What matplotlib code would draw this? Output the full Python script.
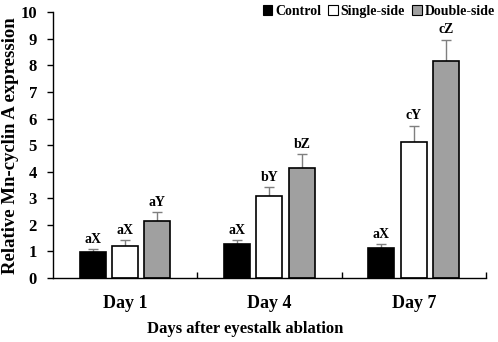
import matplotlib.pyplot as plt
import numpy as np
from matplotlib.patches import Patch

###  values
days = ['Day 1', 'Day 4', 'Day 7']
groups = ['Control', 'Single-side', 'Double-side']
control = [0.98, 1.27, 1.12]
single = [1.20, 3.09, 5.12]
double = [2.14, 4.16, 8.18]
controlErr = [0.10, 0.17, 0.16]
singleErr = [0.23, 0.32, 0.62]
doubleErr = [0.35, 0.50, 0.79]
letters = [['aX', 'aX', 'aX'],
           ['aX', 'bY', 'cY'],
           ['aY', 'bZ', 'cZ']]

plt.rcParams['font.family'] = ['Liberation Serif', 'DejaVu Serif']
plt.rcParams['font.weight'] = 'bold'

fig = plt.figure(figsize=(4.98, 3.42), dpi=100)
ax = fig.add_axes([0.106, 0.187, 0.870, 0.777])

fills = ['black', 'white', '#a0a0a0']
centres = np.arange(len(days)) + 0.5
offsets = [-0.225, 0.0, 0.225]
width = 0.18

for g, (vals, errs) in enumerate([(control, controlErr), (single, singleErr),
                                  (double, doubleErr)]):
    xs = centres + offsets[g]
    ax.bar(xs, vals, width=width, color=fills[g], edgecolor='black',
           linewidth=1.2, zorder=2)
      #  only upper error bars, drawn in grey
    ax.errorbar(xs, vals, yerr=[np.zeros(len(vals)), errs], fmt='none',
                ecolor='#7f7f7f', elinewidth=1.0, capsize=3.5, capthick=1.0,
                zorder=1)
    for x, v, e, t in zip(xs, vals, errs, letters[g]):
        ax.text(x, v + e + 0.12, t, ha='center', va='bottom', fontsize=10,
                fontweight='bold')

ax.set_xlim(0, 3)
ax.set_ylim(0, 10)
ax.set_yticks(range(0, 11))
ax.tick_params(axis='y', direction='out', length=4.3, width=1,
               labelsize=12, pad=7)
###  boundary ticks point inward, labels sit at the category centres
ax.set_xticks([1, 2, 3])
ax.set_xticklabels([])
ax.tick_params(axis='x', which='major', direction='in', length=4, width=1)
ax.set_xticks(centres, minor=True)
ax.set_xticklabels(days, minor=True)
ax.tick_params(axis='x', which='minor', length=0, labelsize=13, pad=12)

for s in ['top', 'right']:
    ax.spines[s].set_visible(False)
for s in ['left', 'bottom']:
    ax.spines[s].set_linewidth(1.0)

ax.set_ylabel('Relative Mn-cyclin A expression', fontsize=13.5,
              fontweight='bold')
ax.yaxis.set_label_coords(-0.078, 0.5)
ax.set_xlabel('Days after eyestalk ablation', fontsize=12,
              fontweight='bold')
ax.xaxis.set_label_coords(0.445, -0.16)

handles = [Patch(facecolor=c, edgecolor='black', linewidth=0.8)
           for c in fills]
fig.legend(handles, groups, loc='upper right', bbox_to_anchor=(1.01, 1.01),
           ncol=3, frameon=False, fontsize=10, handlelength=0.7,
           handleheight=0.7, handletextpad=0.2, columnspacing=0.5,
           borderaxespad=0.2)

fig.savefig('out.png', dpi=100)
